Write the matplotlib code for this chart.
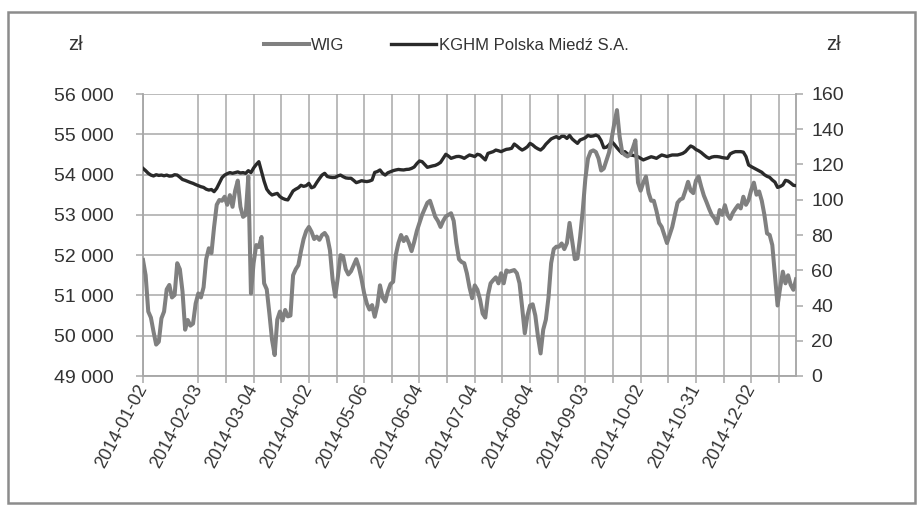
import numpy as np
import pandas as pd
import matplotlib
matplotlib.use("Agg")
import matplotlib.pyplot as plt
from matplotlib.ticker import FuncFormatter, FixedLocator
from matplotlib.patches import Rectangle
from matplotlib.lines import Line2D

plt.rcParams['font.family'] = ['Liberation Sans Narrow', 'Liberation Sans', 'DejaVu Sans']

# ---------------- data ----------------
holidays = ['2014-01-01', '2014-01-06', '2014-04-18', '2014-04-21', '2014-05-01',
            '2014-06-19', '2014-08-15', '2014-11-11', '2014-12-24', '2014-12-25',
            '2014-12-26', '2014-12-31']
dates = pd.bdate_range('2014-01-01', '2014-12-31', freq='C', holidays=holidays)

tick_labels = ['2014-01-02', '2014-02-03', '2014-03-04', '2014-04-02', '2014-05-06',
               '2014-06-04', '2014-07-04', '2014-08-04', '2014-09-03', '2014-10-02',
               '2014-10-31', '2014-12-02']

wig = [
    51880, 51500, 50600, 50450, 50100, 49780, 49850, 50430, 50600, 51150,
    51260, 50950, 51010, 51800, 51650, 51100, 50150, 50390, 50250, 50300,
    50800, 51050, 50950, 51200, 51900, 52170, 52050, 52700, 53250, 53370,
    53350, 53450, 53250, 53490, 53200, 53600, 53850, 53200, 52950, 53000,
    53950, 51050, 51800, 52250, 52200, 52450, 51300, 51150, 50550, 49900,
    49520, 50400, 50600, 50380, 50640, 50480, 50500, 51500, 51650, 51750,
    52100, 52400, 52600, 52700, 52580, 52400, 52460, 52380, 52500, 52550,
    52450, 52120, 51400, 50970, 51450, 52000, 51970, 51650, 51520, 51600,
    51750, 51900, 51700, 51400, 51050, 50800, 50650, 50760, 50470, 50750,
    51250, 50950, 50850, 51100, 51280, 51340, 52000, 52300, 52500, 52350,
    52450, 52300, 52100, 52330, 52600, 52800, 53000, 53150, 53300, 53350,
    53150, 52950, 52850, 52700, 52850, 52960, 53000, 53040, 52850, 52300,
    51900, 51830, 51800, 51550, 51200, 50930, 51250, 51140, 50900, 50550,
    50450, 51000, 51300, 51380, 51450, 51300, 51550, 51300, 51620, 51590,
    51610, 51630, 51550, 51300, 50700, 50060, 50500, 50750, 50780, 50500,
    49980, 49560, 50150, 50400, 50950, 51800, 52150, 52210, 52210, 52290,
    52150, 52300, 52800, 52350, 51900, 51920, 52450, 53100, 53900, 54400,
    54570, 54600, 54560, 54400, 54100, 54150, 54350, 54550, 54900, 55270,
    55600, 54950, 54550, 54490, 54450, 54500, 54650, 54850, 53800, 53600,
    53800, 53950, 53550, 53350, 53350, 53100, 52800, 52700, 52500, 52300,
    52500, 52700, 53000, 53300, 53380, 53410, 53600, 53820, 53600, 53540,
    53850, 53950, 53700, 53480, 53320, 53150, 53000, 52920, 52790, 53120,
    53000, 53240, 53000, 52900, 53050, 53150, 53240, 53160, 53450, 53250,
    53370, 53620, 53800, 53500, 53580, 53350, 53000, 52540, 52500, 52250,
    51500, 50750, 51200, 51590, 51300, 51500, 51260, 51140, 51400,
]

kghm = [
    117.8, 116.5, 115.0, 114.0, 113.5, 114.2, 113.8, 114.0, 113.6, 114.0,
    113.4, 113.5, 114.2, 114.0, 112.8, 111.5, 111.0, 110.4, 109.8, 109.3,
    108.6, 108.0, 107.4, 107.0, 106.0, 105.5, 105.8, 104.6, 106.5, 109.5,
    112.5, 114.0, 114.8, 115.4, 115.0, 115.4, 115.8, 115.2, 115.4, 115.0,
    116.5, 115.4, 118.0, 120.0, 121.6, 116.0, 110.5, 106.0, 104.0, 102.7,
    103.2, 103.6, 101.8, 100.8, 100.2, 99.9, 102.5, 105.0, 106.0, 106.8,
    108.2, 107.6, 108.0, 109.3, 106.8, 107.4, 109.8, 112.0, 114.0, 115.0,
    113.2, 112.8, 112.6, 112.7, 113.5, 114.0, 113.1, 112.4, 112.2, 112.2,
    111.0, 109.7, 110.2, 110.8, 110.5, 110.3, 110.6, 111.2, 115.5, 116.0,
    116.9, 115.0, 114.0, 115.3, 115.9, 116.5, 116.9, 117.2, 117.0, 116.9,
    117.2, 117.3, 117.8, 118.6, 120.5, 122.0, 121.6, 120.0, 118.4, 118.8,
    119.2, 119.5, 120.2, 121.2, 123.5, 125.8, 124.8, 123.5, 124.0, 124.5,
    124.6, 124.2, 123.5, 124.5, 125.4, 125.0, 124.5, 125.8, 125.4, 124.0,
    122.6, 126.3, 126.8, 127.3, 128.2, 127.8, 127.3, 128.0, 128.6, 128.8,
    129.2, 131.6, 130.5, 129.2, 128.2, 129.0, 130.1, 132.0, 131.1, 129.8,
    128.9, 128.2, 129.5, 131.5, 133.0, 134.5, 135.2, 135.8, 134.8, 136.0,
    136.0, 134.8, 136.5, 134.5, 133.2, 132.0, 133.9, 134.5, 135.2, 136.5,
    136.0, 136.2, 136.7, 136.0, 133.5, 129.5, 129.8, 131.1, 133.0, 131.4,
    129.5, 127.8, 126.3, 127.3, 126.0, 125.4, 125.2, 124.8, 124.4, 123.5,
    122.6, 123.2, 123.8, 124.4, 124.0, 123.5, 124.5, 125.4, 125.0, 124.5,
    125.0, 125.4, 125.4, 125.4, 125.8, 126.3, 127.3, 129.0, 130.5, 129.8,
    128.5, 127.8, 126.8, 125.5, 124.3, 123.5, 124.2, 124.5, 124.5, 124.3,
    123.9, 123.7, 123.5, 126.0, 126.8, 127.3, 127.3, 127.3, 127.0, 124.5,
    119.7, 118.8, 118.0, 117.2, 116.4, 115.6, 114.2, 113.3, 112.7, 111.2,
    110.0, 107.0, 107.5, 108.4, 111.0, 110.6, 109.5, 108.2, 108.0,
]

series_names = ['WIG', 'KGHM Polska Miedź S.A.']
left_ticks = [49000, 50000, 51000, 52000, 53000, 54000, 55000, 56000]
right_ticks = [0, 20, 40, 60, 80, 100, 120, 140, 160]

# ---------------- figure ----------------
W, H = 918, 508
fig = plt.figure(figsize=(W / 100, H / 100), dpi=100)
fig.patch.set_facecolor('white')

L, R, T, B = 143, 796, 94, 376
ax = fig.add_axes([L / W, 1 - B / H, (R - L) / W, (B - T) / H])
ax2 = ax.twinx()

n = len(dates)
x = np.arange(n)
date_str = [d.strftime('%Y-%m-%d') for d in dates]
label_pos = [date_str.index(t) for t in tick_labels]
mid_pos = [p + (label_pos[1] - label_pos[0]) / 2 for p in label_pos[1:]]

grid_c = '#a8a8a8'
text_c = '#333333'
wig_c = '#808080'
kghm_c = '#2a2a2a'

ax.set_xlim(0, n - 1)
ax.set_ylim(left_ticks[0], left_ticks[-1])
ax2.set_ylim(right_ticks[0], right_ticks[-1])

# grid
ax.yaxis.set_major_locator(FixedLocator(left_ticks))
ax.grid(axis='y', color=grid_c, lw=1.1)
for p in label_pos + mid_pos:
    ax.axvline(p, color=grid_c, lw=1.1, zorder=0.5)
ax.set_axisbelow(True)

# lines (both drawn on top axes so that the grey one lies above)
ax2.plot(x, kghm, color=kghm_c, lw=2.4, solid_joinstyle='round', zorder=3)
ax2.plot(x, wig, color=wig_c, lw=2.9, solid_joinstyle='round', zorder=4,
         transform=ax.transData)
ax2.set_ylim(right_ticks[0], right_ticks[-1])
ax2.set_xlim(0, n - 1)

# spines
for a in (ax, ax2):
    for s in a.spines.values():
        s.set_color(grid_c)
        s.set_linewidth(1.1)
    a.spines['top'].set_visible(False)

# left ticks
ax.yaxis.set_major_formatter(FuncFormatter(lambda v, p: f"{int(v):,}".replace(',', ' ')))
ax.tick_params(axis='y', direction='out', length=5, width=1.1, color=grid_c,
               labelsize=14, labelcolor=text_c, pad=16)
# right ticks
ax2.yaxis.set_major_locator(FixedLocator(right_ticks))
ax2.tick_params(axis='y', direction='out', length=5, width=1.1, color=grid_c,
                labelsize=14, labelcolor=text_c, pad=6)
# bottom ticks
ax.xaxis.set_major_locator(FixedLocator(label_pos))
ax.xaxis.set_minor_locator(FixedLocator(mid_pos))
ax.set_xticklabels(tick_labels, rotation=62, ha='right', va='center',
                   rotation_mode='anchor', fontsize=13, color=text_c)
ax.tick_params(axis='x', which='both', direction='out', length=5, width=1.1,
               color=grid_c, pad=2)
ax2.tick_params(axis='x', which='both', length=0)

# axis unit labels
fig.text(75 / W, 1 - 45 / H, 'zł', ha='center', va='center', fontsize=14.5, color=text_c)
fig.text(833 / W, 1 - 45 / H, 'zł', ha='center', va='center', fontsize=14.5, color=text_c)

# legend
handles = [Line2D([], [], color=wig_c, lw=2.9), Line2D([], [], color=kghm_c, lw=2.4)]
fig.legend(handles, series_names, loc='center', bbox_to_anchor=(446 / W, 1 - 45 / H),
           ncol=2, frameon=False, fontsize=12, handlelength=2.7, handletextpad=0.15,
           columnspacing=2.8, labelcolor=text_c)

# outer chart frame
fig.add_artist(Rectangle((8 / W, 1 - 503 / H), (915 - 8) / W, (503 - 12) / H,
                         transform=fig.transFigure, fill=False, edgecolor='#8c8c8c',
                         lw=1.8))

fig.savefig('out.png', dpi=100)
